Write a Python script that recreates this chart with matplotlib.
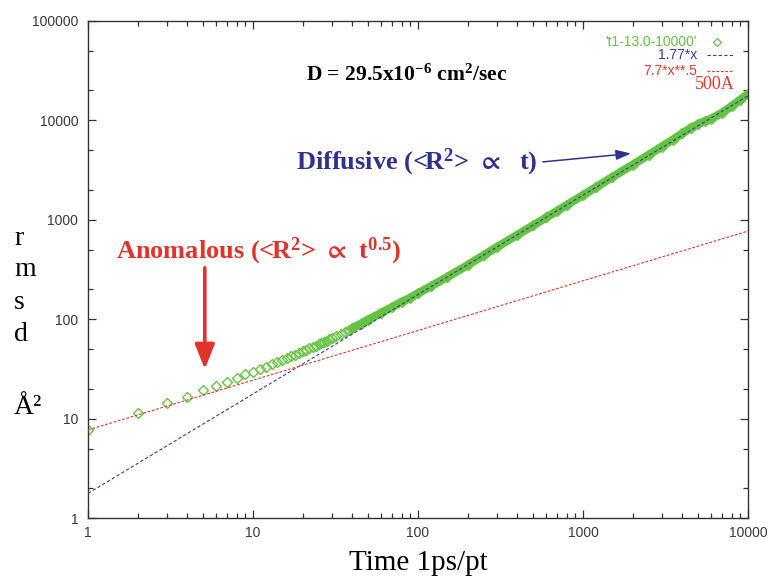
import matplotlib
matplotlib.use("Agg")
import matplotlib.pyplot as plt
import matplotlib.ticker as mticker
import numpy as np

# data
time_ps = [1, 2, 3, 4, 5, 6, 7, 8, 9, 10,
           11, 12, 13, 14, 15, 16, 17, 18, 19, 20,
           21, 22, 23, 24, 25, 26, 27, 28, 29, 30,
           32, 34, 36, 38, 40, 45, 50, 60, 70, 80, 90, 100,
           120, 150, 200, 250, 300, 400, 500, 600, 700, 800, 1000,
           1200, 1500, 2000, 2500, 3000, 3500, 4000, 4500, 5000,
           5500, 6000, 7000, 8000, 9000, 10000]
msd = [7.7, 11.3, 14.3, 16.6, 19.3, 21.3, 23.3, 25.4, 27.8, 29.5,
       31.3, 33.3, 35.3, 37.0, 38.8, 40.6, 42.3, 44.0, 45.8, 47.5,
       49.2, 50.9, 52.6, 54.3, 56.0, 57.6, 59.3, 61.0, 62.7, 64.4,
       67.8, 71.2, 74.5, 77.8, 81.1, 90, 99, 116, 133, 150, 165, 182,
       215, 265, 350, 440, 530, 705, 880, 1055, 1235, 1415, 1770,
       2130, 2680, 3580, 4500, 5450, 6400, 7400, 8400, 9200,
       9800, 10400, 12000, 14000, 16200, 18500]
dense_from = 40  # markers merge into a band from here on

diff_coef, anom_coef = 1.77, 7.7
fit_x = [1, 10000]
fit_x_anom = [1, 2, 5, 10, 20, 50, 100, 200, 500, 1000, 2000, 5000, 10000]

legend_labels = ["'t1-13.0-10000'", "1.77*x", "7.7*x**.5"]

GREEN = "#64c440"
BLUE = "#3a3aa8"
RED = "#e23a2c"
NAVY = "#2e3192"
TXT_RED = "#e0342a"

plt.rcParams.update({
    "font.family": ["Liberation Sans", "DejaVu Sans"],
    "mathtext.fontset": "custom",
    "mathtext.rm": "Liberation Serif",
    "mathtext.bf": "Liberation Serif:bold",
    "mathtext.default": "bf",
    "mathtext.fallback": "stix",
})

fig = plt.figure(figsize=(7.69, 5.82), dpi=100)
ax = fig.add_axes([88 / 769, 64 / 582, 660 / 769, 497 / 582])

t = np.array(time_ps, float)
y = np.array(msd, float)
dense = t >= dense_from
ax.plot(t[dense], y[dense], color=GREEN, lw=6, solid_capstyle="round", zorder=2)
ax.plot(t, y, ls="none", marker="D", ms=5, mfc="none", mec=GREEN, mew=1.0, zorder=2)

fx = np.array(fit_x, float)
ax.plot(fx, diff_coef * fx, color=BLUE, lw=0.8, dashes=(3, 2), zorder=3)
fa = np.array(fit_x_anom, float)
ax.plot(fa, anom_coef * fa ** 0.5, color=RED, lw=0.8, dashes=(2.5, 1.5), zorder=3)

ax.set_xscale("log")
ax.set_yscale("log")
ax.set_xlim(1, 10000)
ax.set_ylim(1, 100000)

fmt = mticker.FuncFormatter(lambda v, _: f"{int(round(v))}")
ax.xaxis.set_major_formatter(fmt)
ax.yaxis.set_major_formatter(fmt)
ax.xaxis.set_minor_locator(mticker.LogLocator(base=10, subs=range(2, 10)))
ax.yaxis.set_minor_locator(mticker.LogLocator(base=10, subs=(2, 5)))
ax.xaxis.set_minor_formatter(mticker.NullFormatter())
ax.yaxis.set_minor_formatter(mticker.NullFormatter())
ax.tick_params(which="both", direction="in", top=True, right=True,
               color="#333333", width=0.9, labelsize=10, labelcolor="#3a3a3a")
ax.tick_params(which="major", length=6)
ax.tick_params(which="minor", length=3.5)
ax.tick_params(axis="x", pad=6)
ax.tick_params(axis="y", pad=7)
for sp in ax.spines.values():
    sp.set_color("#333333")
    sp.set_linewidth(1.0)

# key, drawn the way the plotting program did it
rows_y = [0.958, 0.932, 0.899]
colors = [GREEN, BLUE, RED]
for lab, ry, c in zip(legend_labels, rows_y, colors):
    ax.text(0.923, ry, lab, transform=ax.transAxes, ha="right", va="center",
            fontsize=10, color=c)
ax.plot([0.953], [rows_y[0]], transform=ax.transAxes, marker="D", ms=4.5,
        mfc="none", mec=GREEN, mew=0.9, clip_on=False)
ax.plot([0.938, 0.977], [rows_y[1]] * 2, transform=ax.transAxes, color=BLUE,
        lw=0.8, dashes=(3, 2), clip_on=False)
ax.plot([0.938, 0.977], [rows_y[2]] * 2, transform=ax.transAxes, color=RED,
        lw=0.8, dashes=(2.5, 1.5), clip_on=False)

ax.text(0.95, 0.873, "500A", transform=ax.transAxes, ha="center", va="center",
        fontsize=13, color=RED, family="Liberation Serif")

ax.text(0.4826, 0.891, r"D = 29.5x10$^{-6}$ cm$^{2}$/sec", transform=ax.transAxes,
        ha="center", va="center", fontsize=15.5, fontweight="bold",
        family="Liberation Serif", color="black")

ax.text(0.4985, 0.716, r"Diffusive (<R$^{2}$> $\propto$  t)", transform=ax.transAxes,
        ha="center", va="center", fontsize=19, fontweight="bold",
        family="Liberation Serif", color=NAVY)
ax.annotate("", xy=(0.827, 0.734), xytext=(0.685, 0.716),
            xycoords="axes fraction", textcoords="axes fraction",
            arrowprops=dict(arrowstyle="-|>,head_length=0.9,head_width=0.3",
                            color=NAVY, lw=1.1))

ax.text(0.259, 0.536, r"Anomalous (<R$^{2}$> $\propto$ t$^{0.5}$)", transform=ax.transAxes,
        ha="center", va="center", fontsize=19, fontweight="bold",
        family="Liberation Serif", color=TXT_RED)
ax.annotate("", xy=(0.177, 0.294), xytext=(0.177, 0.509),
            xycoords="axes fraction", textcoords="axes fraction",
            arrowprops=dict(arrowstyle="-|>,head_length=1.5,head_width=0.6",
                            color=TXT_RED, lw=2.6))

# stacked y label
for ch, base in zip(["r", "m", "s", "d", "Å²"], [245, 276, 309, 341, 414]):
    fig.text(14 / 769, 1 - base / 582, ch, ha="left", va="baseline",
             fontsize=20, family="Liberation Serif", color="black")

fig.text(418 / 769, 1 - 563 / 582, "Time 1ps/pt", ha="center", va="center",
         fontsize=21, family="Liberation Serif", color="black")

fig.savefig("out.png", dpi=100)
